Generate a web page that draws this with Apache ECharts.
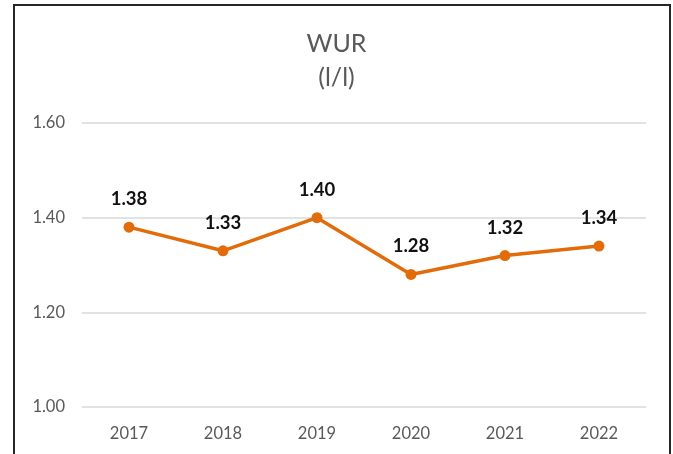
<!DOCTYPE html>
<html>
<head>
<meta charset="utf-8">
<script src="https://cdn.jsdelivr.net/npm/echarts@6/dist/echarts.min.js"></script>
<style>
html, body { margin: 0; padding: 0; background: #fff; }
#chart { width: 673px; height: 454px; }
</style>
</head>
<body>
<div id="chart"></div>
<script>
var years = ['2017', '2018', '2019', '2020', '2021', '2022'];
var wur = [1.38, 1.33, 1.40, 1.28, 1.32, 1.34];
var yTicks = [1.00, 1.20, 1.40, 1.60];

var chart = echarts.init(document.getElementById('chart'));
chart.setOption({
    backgroundColor: '#fff',
    textStyle: { fontFamily: 'Lato' },
    title: {
        text: 'WUR\n(l/l)',
        left: 'center',
        top: 22,
        textStyle: {
            fontFamily: 'Lato',
            fontSize: 25,
            fontWeight: 'normal',
            color: '#595959',
            lineHeight: 34
        }
    },
    graphic: [{
        type: 'rect',
        shape: { x: 14, y: 5, width: 656, height: 470 },
        style: { fill: 'none', stroke: '#262626', lineWidth: 2 },
        silent: true
    }],
    grid: { left: 82, right: 27, top: 123, bottom: 47 },
    xAxis: {
        type: 'category',
        data: years,
        boundaryGap: true,
        axisLine: { show: false },
        axisTick: { show: false },
        axisLabel: { color: '#595959', fontSize: 16.5, margin: 18 }
    },
    yAxis: {
        type: 'value',
        min: yTicks[0],
        max: yTicks[yTicks.length - 1],
        interval: 0.2,
        axisLine: { show: false },
        axisTick: { show: false },
        splitLine: { lineStyle: { color: '#d9d9d9', width: 1.5 } },
        axisLabel: {
            color: '#595959',
            fontSize: 16.5,
            margin: 17,
            formatter: function (v) { return v.toFixed(2); }
        }
    },
    series: [{
        type: 'line',
        data: wur,
        symbol: 'circle',
        symbolSize: 11,
        lineStyle: { color: '#E26B0A', width: 3.5 },
        itemStyle: { color: '#E26B0A' },
        label: {
            show: true,
            position: 'top',
            distance: 13,
            fontFamily: 'Lato',
            fontSize: 18.5,
            fontWeight: 'bold',
            color: '#111',
            formatter: function (p) { return p.value.toFixed(2); }
        }
    }]
});
</script>
</body>
</html>
